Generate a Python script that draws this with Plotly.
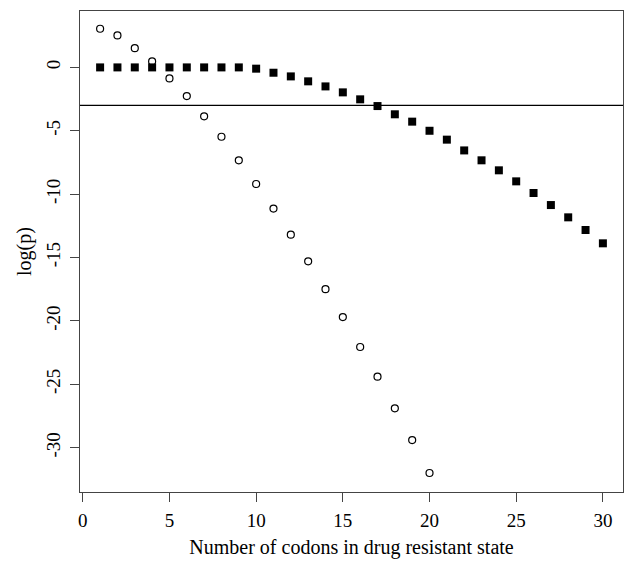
import plotly.graph_objects as go

codons_open = list(range(1, 21))
logp_open = [3.05, 2.52, 1.52, 0.47, -0.87, -2.26, -3.86, -5.47, -7.33, -9.2,
             -11.14, -13.2, -15.3, -17.5, -19.7, -22.06, -24.4, -26.9, -29.4, -32.0]

codons_filled = list(range(1, 31))
logp_filled = [0, 0, 0, 0, 0, 0, 0, 0, 0, -0.1,
               -0.42, -0.71, -1.1, -1.5, -1.97, -2.52, -3.05, -3.7, -4.28, -5.0,
               -5.7, -6.55, -7.33, -8.12, -8.99, -9.91, -10.86, -11.83, -12.83, -13.88]

threshold = -3
x_ticks = [0, 5, 10, 15, 20, 25, 30]
y_ticks = [0, -5, -10, -15, -20, -25, -30]
y_ticklabels = ["0", "-5", "-10", "-15", "-20", "-25", "-30"]

fig = go.Figure()
fig.add_trace(go.Scatter(x=codons_open, y=logp_open, mode="markers",
                         marker=dict(symbol="circle-open", size=7, color="black",
                                     line=dict(width=1.2, color="black")),
                         showlegend=False))
fig.add_trace(go.Scatter(x=codons_filled, y=logp_filled, mode="markers",
                         marker=dict(symbol="square", size=8, color="black"),
                         showlegend=False))
fig.add_hline(y=threshold, line=dict(color="black", width=1.2))

font = "Liberation Serif, Times New Roman, serif"
fig.update_layout(
    width=627, height=562,
    margin=dict(l=80, r=4, t=11, b=70),
    plot_bgcolor="white", paper_bgcolor="white",
    font=dict(family=font, size=19, color="black"),
)
fig.update_xaxes(range=[-0.16, 31.16], tickvals=x_ticks, ticks="outside", ticklen=9,
                 tickcolor="#444", showline=True, linecolor="#444", linewidth=1.2,
                 mirror=True, showgrid=False, zeroline=False, automargin=False,
                 ticklabelstandoff=2,
                 title=dict(text="Number of codons in drug resistant state",
                            font=dict(size=20), standoff=10))
fig.update_yaxes(range=[-33.5, 4.45], tickvals=y_ticks, ticktext=y_ticklabels,
                 ticks="outside", ticklen=9,
                 tickcolor="#444", showline=True, linecolor="#444", linewidth=1.2,
                 mirror=True, showgrid=False, zeroline=False, tickangle=-90,
                 automargin=False, ticklabelstandoff=2,
                 title=dict(text="log(p)", font=dict(size=20), standoff=6))
fig.write_html("out.html", config={"displayModeBar": False},
               post_script="document.body.style.margin='0';document.body.style.overflow='hidden';")
